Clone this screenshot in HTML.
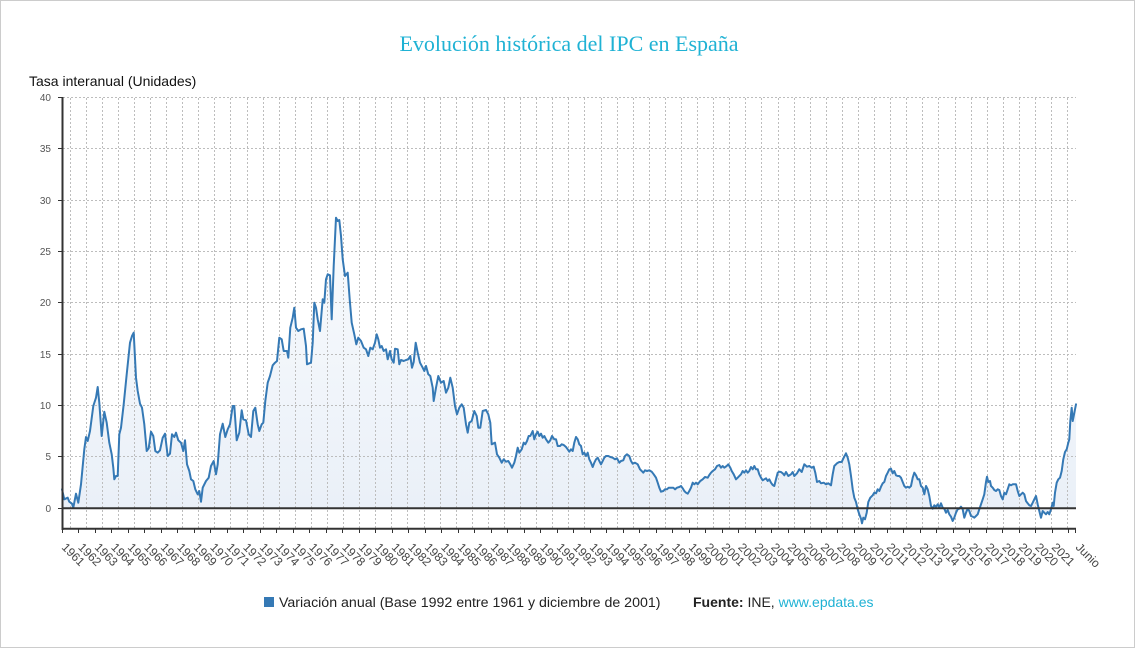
<!DOCTYPE html>
<html><head><meta charset="utf-8"><style>
html,body{margin:0;padding:0;background:#fff;}
.wrap{position:relative;width:1135px;height:648px;box-sizing:border-box;border:1px solid #cccccc;overflow:hidden;background:#fff;}
svg{position:absolute;left:0;top:0;}
</style></head><body><div class="wrap">
<svg width="1135" height="648" viewBox="0 0 1135 648" xmlns="http://www.w3.org/2000/svg">
<defs>
<linearGradient id="fg2" x1="0" y1="216" x2="0" y2="507" gradientUnits="userSpaceOnUse">
<stop offset="0" stop-color="#f9fbfd"/><stop offset="1" stop-color="#eaf0f8"/>
</linearGradient>
</defs>
<text x="568" y="50" text-anchor="middle" font-family="Liberation Serif, serif" font-size="22" fill="#1fb2d4">Evolución histórica del IPC en España</text>
<text x="28" y="85" font-family="Liberation Sans, sans-serif" font-size="14" fill="#111">Tasa interanual (Unidades)</text>

<!-- fill -->
<polygon fill="url(#fg2)" points="61,507.3 61,488.3 63.3,498.3 66.7,496.7 68.3,500.7 71,502.7 72.3,506.7 75,492.7 77.3,501.7 80,483.3 83.3,448.3 85,436 86.7,440 89,430 92.3,405 95,396.7 96.7,386 98.3,401.7 100.7,435 103.3,410.7 105.7,421.7 108.3,441.7 110.7,453.3 112.3,466.7 113.3,478.3 115,475 116.7,475 118.3,433.3 120,426.7 122.7,403.3 125.7,373.3 129,341.7 131,335 132.7,331.7 135,376.7 136.7,390 139,402.7 141,406.7 143.3,423.3 145.7,450 147.7,447.3 150,430.7 152.3,435 154.3,450 156.7,451.7 159,449.3 161.7,436.7 164,432.7 166.7,455 169,452.7 171,433.3 173.3,436 175,431.7 177.3,439.3 180,441.7 182.3,450 184,439.3 186,463.3 188.3,470 190,478.3 192.3,480 194.3,488.3 196.7,493.3 198.3,490 200,500.7 201.7,486.7 205,480 207.7,476.7 210,465 212.7,460 215,473.3 216.7,463.3 219,433.3 221.7,422.7 224.3,436 226.7,428.3 229,423.3 231.7,405 233.3,405 235.7,439.3 238.3,431.7 240.7,409.3 242.3,418.3 245,419.3 247.7,433.3 250,436 252.3,410 254.3,406.7 256.7,423.3 258.3,430 260.7,423.3 262.3,421.7 264.3,400 266.7,381.7 269,375 271.7,364.3 274,361.7 276,360 278.3,336.7 280.7,338.3 282.7,350 286,350 287.3,356.7 289.3,326.7 291.7,316.7 293.3,306.7 295,326.7 297.3,330 300,328.3 302.7,327.7 305,345 306,363.3 308.3,362.3 310,361.7 311.7,341.7 313.3,301.7 315,306.7 316.7,318.3 319,330 321.7,298.3 323.3,301.7 325,278.3 326.7,273.3 329,274.3 330.7,318.3 332.7,265 335,216.7 336.7,220 338.3,219 340,235 341.7,258.3 344,275 346.7,271.7 348.7,298.3 350.7,321.7 353.3,333.3 355.3,343.3 357.3,336.7 360,340 362.7,346.7 365,348.3 367.3,355 369.3,346.7 371.7,348.3 374,341.7 375.7,333.3 377.3,338.3 379,346.7 380.7,345 382.7,350 385,348.3 386.7,358.3 389,350 390.7,358.3 392.7,361.7 394,347.7 396.7,348.3 398.3,363.3 400,359 402.7,360 405,359 407.3,358.3 409.3,355 411,366.7 412.7,361 414.7,341.7 416.7,351.7 419,361.7 421.7,366.7 423.3,370 425,365 427.3,373.3 429.3,375 431.7,386.7 432.7,400 435,386.7 437.3,375 440,381.7 442.7,380 445,391.7 447.3,386.7 449.3,376.7 451.7,386.7 454,405 456,413.3 458.3,406.7 460.7,403.3 462.7,406.7 465,423.3 466.7,431.7 468.3,421.7 470.7,420 473.3,410 475.7,415 477.3,426.7 479.3,426.7 481.7,410 485,409 487.3,413.3 489.3,421.7 490.7,443.3 494,441.7 496,453.3 498.3,456.7 500.7,461.7 502.7,458.3 505,460.7 507.3,460 509.3,463.3 511,466.7 513.3,461.7 515,455 516.7,446.7 518.3,451.7 520.7,448.3 522.7,441.7 524.3,443.3 526,440 527.7,435 529.3,435 531.7,430 533.3,438.3 535,433.3 536.7,430.7 538.3,435 540,432.7 541.7,436.7 543.3,435 545,438.3 547.3,441.7 549.3,439.3 551,435 553.3,438.3 555,438.3 556.7,445 559,445 560.7,443.3 562.7,444 565,446 566.7,448.3 568.3,450.7 570,448.3 571.7,450 573.3,441.7 575,436 576.7,438.3 578.3,443.3 580,445 581.7,453.3 583.3,451.7 585,455 586.7,451.7 588.3,458.3 590,461.7 591.7,466 593.3,461.7 595,458.3 596.7,456.7 598.3,460 600,463.3 601.7,460 603.3,456.7 605,455 607.3,455 609.3,456 611.7,456.7 614,458.3 616,457.3 618.3,461.7 620,460 622.3,459.3 624,455 626,453.3 628.3,455 630,460 631.7,462.7 634,461.7 636.7,463.3 639,468.3 640.7,470 642.3,471.7 644,469.3 646,470 648.3,469.3 650.7,470.7 652.7,473.3 655,476.7 656.7,481.7 658.3,486.7 660,490.7 662.3,490 664,488.3 666,488.3 667.7,486.7 670,486.7 672.3,486.7 674,488.3 676,486.7 678.3,486 680,485 681.7,487.3 683.3,490 685,491.7 686.7,492.7 688.3,490 690,486.7 691.7,481.7 693.3,483.3 695,481.7 696.7,483.3 699.3,480 701.7,478.3 704,476 706.7,476.7 708.3,474 710,471.7 711.7,470 714,468.3 716,465 718.3,464 720,466.7 721.7,465 723.3,466.7 725.7,465 727.3,463.3 729.3,466.7 730.7,470 732.7,473.3 735,478.3 736.7,476.7 738.3,475 740,473.3 741.7,470 743.3,471.7 745,469.3 746.7,471.7 748.3,470 750,466 751.7,468.3 753.3,465 755,468.3 756.7,468.3 758.3,473.3 760,476.7 761.7,479.3 763.3,478.3 765,477.3 766.7,480 768.3,478.3 770,481.7 771.7,484 773.3,485 775,478.3 776.7,471.7 778.3,470.7 780,471 781.7,472.3 783.3,474.3 785,471 787.3,475 790,473.3 791.7,471 793.3,475 796,472.3 798.3,468.3 800.7,471 803.3,463.3 806,465.7 808.3,465 810.7,466.7 812.7,465.7 814.3,471.7 816,481 818.3,480 820,482.3 822.7,481.7 825,483.3 827.3,482.3 830,484.3 831.7,473.3 833.3,465 836,462.3 838.3,461 840.7,461 842.7,456.7 845,452.3 846.7,456.7 848.3,463.3 850,475 851.7,488.3 853.3,496.7 855,501 856.7,508.3 858.3,513.3 860,517.7 861,522.3 862.3,516.7 864,518.3 865.7,511.7 867.3,501 869.3,496.7 871.7,494.3 873.3,491.7 875,492.3 876.7,488.3 878.3,490 880,485.7 881.7,482.3 883.3,481 885,475 886.7,471.7 888.3,468.3 890,467.7 891.7,472.3 893.3,470 895,474.3 896.7,475 898.3,475 900,476.7 901.7,481 903.3,485 905,486.7 906.7,485.7 908.3,486.7 910,485 911.7,476.7 913.3,471.7 915,474.3 916.7,478.3 918.3,478.3 920,485 921.7,486.7 923.3,493.3 925,485 926.7,488.3 928.3,495 930,505 931.7,507.7 933.3,504.3 935,505.7 936.7,503.3 938.3,506.7 940,502.3 941.7,506.7 943.3,507.7 945,511.7 946.7,509 948.3,513.3 950,515.7 951.7,520 953.3,516.7 955,511.7 956.7,508.3 958.3,507.7 960,505.7 961.7,508.3 963.3,516.7 965,511.7 966.7,507.7 968.3,510 970,515 971.7,515.7 973.3,516.7 975,515 976.7,513.3 978.3,508.3 980,503.3 981.7,498.3 983.3,493.3 985,481 986,475.7 987.3,481 989,480 990,485 991.7,486.7 993.3,489 995,490 996.7,488.3 998.3,489 1000,495 1001.7,498.3 1003.3,491.7 1005,493.3 1006.7,488.3 1008.3,483.3 1010,484.3 1011.7,483.3 1013.3,483.3 1015,483.3 1016.7,490 1018.3,495 1020,493.3 1021.7,491.7 1023.3,493.3 1025,500 1026.7,502.3 1028.3,504.3 1030,505 1031.7,501.7 1033.3,498.3 1035,495 1036.7,503.3 1038.3,510 1040,516.7 1041.7,510 1043.3,511.7 1045,513.3 1046.7,511 1048.3,513.3 1050,508.3 1051.7,501.7 1052.7,505 1054,491.7 1055.7,481.7 1057.3,478.3 1059,476.7 1060.7,470 1062.3,458.3 1064,451 1065.7,448.3 1067.3,441.7 1068.3,438.3 1069.3,420 1070.7,406.7 1071.7,420 1072.7,415 1074,408.3 1075,403.3 1075,507.3"/>

<!-- gridlines -->
<g stroke="#bdbdbd" stroke-width="1" stroke-dasharray="2,2" fill="none">
<path d="M62 455.5H1075M62 404.5H1075M62 353.5H1075M62 301.5H1075M62 250.5H1075M62 199.5H1075M62 147.5H1075M62 96.5H1075"/>
<path d="M69.5 97V527M85.5 97V527M101.5 97V527M117.5 97V527M133.5 97V527M149.5 97V527M165.5 97V527M181.5 97V527M197.5 97V527M213.5 97V527M229.5 97V527M246.5 97V527M262.5 97V527M278.5 97V527M294.5 97V527M310.5 97V527M326.5 97V527M342.5 97V527M358.5 97V527M374.5 97V527M390.5 97V527M406.5 97V527M423.5 97V527M439.5 97V527M455.5 97V527M471.5 97V527M487.5 97V527M503.5 97V527M519.5 97V527M535.5 97V527M551.5 97V527M567.5 97V527M583.5 97V527M600.5 97V527M616.5 97V527M632.5 97V527M648.5 97V527M664.5 97V527M680.5 97V527M696.5 97V527M712.5 97V527M728.5 97V527M744.5 97V527M760.5 97V527M777.5 97V527M793.5 97V527M809.5 97V527M825.5 97V527M841.5 97V527M857.5 97V527M873.5 97V527M889.5 97V527M905.5 97V527M921.5 97V527M937.5 97V527M954.5 97V527M970.5 97V527M986.5 97V527M1002.5 97V527M1018.5 97V527M1034.5 97V527M1050.5 97V527M1066.5 97V527"/>
</g>

<!-- series line -->
<polyline fill="none" stroke="#3579b5" stroke-width="2" stroke-linejoin="round" stroke-linecap="round" points="61,488.3 63.3,498.3 66.7,496.7 68.3,500.7 71,502.7 72.3,506.7 75,492.7 77.3,501.7 80,483.3 83.3,448.3 85,436 86.7,440 89,430 92.3,405 95,396.7 96.7,386 98.3,401.7 100.7,435 103.3,410.7 105.7,421.7 108.3,441.7 110.7,453.3 112.3,466.7 113.3,478.3 115,475 116.7,475 118.3,433.3 120,426.7 122.7,403.3 125.7,373.3 129,341.7 131,335 132.7,331.7 135,376.7 136.7,390 139,402.7 141,406.7 143.3,423.3 145.7,450 147.7,447.3 150,430.7 152.3,435 154.3,450 156.7,451.7 159,449.3 161.7,436.7 164,432.7 166.7,455 169,452.7 171,433.3 173.3,436 175,431.7 177.3,439.3 180,441.7 182.3,450 184,439.3 186,463.3 188.3,470 190,478.3 192.3,480 194.3,488.3 196.7,493.3 198.3,490 200,500.7 201.7,486.7 205,480 207.7,476.7 210,465 212.7,460 215,473.3 216.7,463.3 219,433.3 221.7,422.7 224.3,436 226.7,428.3 229,423.3 231.7,405 233.3,405 235.7,439.3 238.3,431.7 240.7,409.3 242.3,418.3 245,419.3 247.7,433.3 250,436 252.3,410 254.3,406.7 256.7,423.3 258.3,430 260.7,423.3 262.3,421.7 264.3,400 266.7,381.7 269,375 271.7,364.3 274,361.7 276,360 278.3,336.7 280.7,338.3 282.7,350 286,350 287.3,356.7 289.3,326.7 291.7,316.7 293.3,306.7 295,326.7 297.3,330 300,328.3 302.7,327.7 305,345 306,363.3 308.3,362.3 310,361.7 311.7,341.7 313.3,301.7 315,306.7 316.7,318.3 319,330 321.7,298.3 323.3,301.7 325,278.3 326.7,273.3 329,274.3 330.7,318.3 332.7,265 335,216.7 336.7,220 338.3,219 340,235 341.7,258.3 344,275 346.7,271.7 348.7,298.3 350.7,321.7 353.3,333.3 355.3,343.3 357.3,336.7 360,340 362.7,346.7 365,348.3 367.3,355 369.3,346.7 371.7,348.3 374,341.7 375.7,333.3 377.3,338.3 379,346.7 380.7,345 382.7,350 385,348.3 386.7,358.3 389,350 390.7,358.3 392.7,361.7 394,347.7 396.7,348.3 398.3,363.3 400,359 402.7,360 405,359 407.3,358.3 409.3,355 411,366.7 412.7,361 414.7,341.7 416.7,351.7 419,361.7 421.7,366.7 423.3,370 425,365 427.3,373.3 429.3,375 431.7,386.7 432.7,400 435,386.7 437.3,375 440,381.7 442.7,380 445,391.7 447.3,386.7 449.3,376.7 451.7,386.7 454,405 456,413.3 458.3,406.7 460.7,403.3 462.7,406.7 465,423.3 466.7,431.7 468.3,421.7 470.7,420 473.3,410 475.7,415 477.3,426.7 479.3,426.7 481.7,410 485,409 487.3,413.3 489.3,421.7 490.7,443.3 494,441.7 496,453.3 498.3,456.7 500.7,461.7 502.7,458.3 505,460.7 507.3,460 509.3,463.3 511,466.7 513.3,461.7 515,455 516.7,446.7 518.3,451.7 520.7,448.3 522.7,441.7 524.3,443.3 526,440 527.7,435 529.3,435 531.7,430 533.3,438.3 535,433.3 536.7,430.7 538.3,435 540,432.7 541.7,436.7 543.3,435 545,438.3 547.3,441.7 549.3,439.3 551,435 553.3,438.3 555,438.3 556.7,445 559,445 560.7,443.3 562.7,444 565,446 566.7,448.3 568.3,450.7 570,448.3 571.7,450 573.3,441.7 575,436 576.7,438.3 578.3,443.3 580,445 581.7,453.3 583.3,451.7 585,455 586.7,451.7 588.3,458.3 590,461.7 591.7,466 593.3,461.7 595,458.3 596.7,456.7 598.3,460 600,463.3 601.7,460 603.3,456.7 605,455 607.3,455 609.3,456 611.7,456.7 614,458.3 616,457.3 618.3,461.7 620,460 622.3,459.3 624,455 626,453.3 628.3,455 630,460 631.7,462.7 634,461.7 636.7,463.3 639,468.3 640.7,470 642.3,471.7 644,469.3 646,470 648.3,469.3 650.7,470.7 652.7,473.3 655,476.7 656.7,481.7 658.3,486.7 660,490.7 662.3,490 664,488.3 666,488.3 667.7,486.7 670,486.7 672.3,486.7 674,488.3 676,486.7 678.3,486 680,485 681.7,487.3 683.3,490 685,491.7 686.7,492.7 688.3,490 690,486.7 691.7,481.7 693.3,483.3 695,481.7 696.7,483.3 699.3,480 701.7,478.3 704,476 706.7,476.7 708.3,474 710,471.7 711.7,470 714,468.3 716,465 718.3,464 720,466.7 721.7,465 723.3,466.7 725.7,465 727.3,463.3 729.3,466.7 730.7,470 732.7,473.3 735,478.3 736.7,476.7 738.3,475 740,473.3 741.7,470 743.3,471.7 745,469.3 746.7,471.7 748.3,470 750,466 751.7,468.3 753.3,465 755,468.3 756.7,468.3 758.3,473.3 760,476.7 761.7,479.3 763.3,478.3 765,477.3 766.7,480 768.3,478.3 770,481.7 771.7,484 773.3,485 775,478.3 776.7,471.7 778.3,470.7 780,471 781.7,472.3 783.3,474.3 785,471 787.3,475 790,473.3 791.7,471 793.3,475 796,472.3 798.3,468.3 800.7,471 803.3,463.3 806,465.7 808.3,465 810.7,466.7 812.7,465.7 814.3,471.7 816,481 818.3,480 820,482.3 822.7,481.7 825,483.3 827.3,482.3 830,484.3 831.7,473.3 833.3,465 836,462.3 838.3,461 840.7,461 842.7,456.7 845,452.3 846.7,456.7 848.3,463.3 850,475 851.7,488.3 853.3,496.7 855,501 856.7,508.3 858.3,513.3 860,517.7 861,522.3 862.3,516.7 864,518.3 865.7,511.7 867.3,501 869.3,496.7 871.7,494.3 873.3,491.7 875,492.3 876.7,488.3 878.3,490 880,485.7 881.7,482.3 883.3,481 885,475 886.7,471.7 888.3,468.3 890,467.7 891.7,472.3 893.3,470 895,474.3 896.7,475 898.3,475 900,476.7 901.7,481 903.3,485 905,486.7 906.7,485.7 908.3,486.7 910,485 911.7,476.7 913.3,471.7 915,474.3 916.7,478.3 918.3,478.3 920,485 921.7,486.7 923.3,493.3 925,485 926.7,488.3 928.3,495 930,505 931.7,507.7 933.3,504.3 935,505.7 936.7,503.3 938.3,506.7 940,502.3 941.7,506.7 943.3,507.7 945,511.7 946.7,509 948.3,513.3 950,515.7 951.7,520 953.3,516.7 955,511.7 956.7,508.3 958.3,507.7 960,505.7 961.7,508.3 963.3,516.7 965,511.7 966.7,507.7 968.3,510 970,515 971.7,515.7 973.3,516.7 975,515 976.7,513.3 978.3,508.3 980,503.3 981.7,498.3 983.3,493.3 985,481 986,475.7 987.3,481 989,480 990,485 991.7,486.7 993.3,489 995,490 996.7,488.3 998.3,489 1000,495 1001.7,498.3 1003.3,491.7 1005,493.3 1006.7,488.3 1008.3,483.3 1010,484.3 1011.7,483.3 1013.3,483.3 1015,483.3 1016.7,490 1018.3,495 1020,493.3 1021.7,491.7 1023.3,493.3 1025,500 1026.7,502.3 1028.3,504.3 1030,505 1031.7,501.7 1033.3,498.3 1035,495 1036.7,503.3 1038.3,510 1040,516.7 1041.7,510 1043.3,511.7 1045,513.3 1046.7,511 1048.3,513.3 1050,508.3 1051.7,501.7 1052.7,505 1054,491.7 1055.7,481.7 1057.3,478.3 1059,476.7 1060.7,470 1062.3,458.3 1064,451 1065.7,448.3 1067.3,441.7 1068.3,438.3 1069.3,420 1070.7,406.7 1071.7,420 1072.7,415 1074,408.3 1075,403.3"/>

<!-- axes -->
<g stroke="#333" fill="none">
<path d="M61.5 96V529" stroke-width="2"/>
<path d="M61 507.3H1075" stroke-width="2"/>
<path d="M61 527.8H1075" stroke-width="2"/>
<path stroke-width="1" d="M57 96.5H62M57 147.5H62M57 199.5H62M57 250.5H62M57 301.5H62M57 353.5H62M57 404.5H62M57 455.5H62M57 507.5H62"/>
<path stroke-width="1" d="M61.5 528V532M77.5 528V532M94.5 528V532M110.5 528V532M127.5 528V532M143.5 528V532M160.5 528V532M176.5 528V532M193.5 528V532M209.5 528V532M226.5 528V532M242.5 528V532M259.5 528V532M275.5 528V532M292.5 528V532M308.5 528V532M325.5 528V532M341.5 528V532M358.5 528V532M374.5 528V532M391.5 528V532M407.5 528V532M424.5 528V532M440.5 528V532M457.5 528V532M473.5 528V532M490.5 528V532M506.5 528V532M523.5 528V532M539.5 528V532M556.5 528V532M572.5 528V532M589.5 528V532M605.5 528V532M622.5 528V532M638.5 528V532M655.5 528V532M671.5 528V532M688.5 528V532M704.5 528V532M721.5 528V532M737.5 528V532M754.5 528V532M770.5 528V532M787.5 528V532M803.5 528V532M820.5 528V532M836.5 528V532M853.5 528V532M869.5 528V532M886.5 528V532M902.5 528V532M919.5 528V532M935.5 528V532M952.5 528V532M968.5 528V532M985.5 528V532M1001.5 528V532M1018.5 528V532M1034.5 528V532M1051.5 528V532M1067.5 528V532M1074.5 528V532"/>
</g>

<!-- y labels -->
<g font-family="Liberation Sans, sans-serif" font-size="10" fill="#555" text-anchor="end">
<text x="50" y="100">40</text>
<text x="50" y="151">35</text>
<text x="50" y="203">30</text>
<text x="50" y="254">25</text>
<text x="50" y="305">20</text>
<text x="50" y="357">15</text>
<text x="50" y="408">10</text>
<text x="50" y="459">5</text>
<text x="50" y="511">0</text>
</g>

<!-- x labels -->
<g font-family="Liberation Sans, sans-serif" font-size="12" fill="#444">
<text transform="translate(60,547) rotate(45)">1961</text>
<text transform="translate(76.5,547) rotate(45)">1962</text>
<text transform="translate(93,547) rotate(45)">1963</text>
<text transform="translate(109.5,547) rotate(45)">1964</text>
<text transform="translate(126,547) rotate(45)">1965</text>
<text transform="translate(142.5,547) rotate(45)">1966</text>
<text transform="translate(159,547) rotate(45)">1967</text>
<text transform="translate(175.5,547) rotate(45)">1968</text>
<text transform="translate(192,547) rotate(45)">1969</text>
<text transform="translate(208.5,547) rotate(45)">1970</text>
<text transform="translate(225,547) rotate(45)">1971</text>
<text transform="translate(241.5,547) rotate(45)">1972</text>
<text transform="translate(258,547) rotate(45)">1973</text>
<text transform="translate(274.5,547) rotate(45)">1974</text>
<text transform="translate(291,547) rotate(45)">1975</text>
<text transform="translate(307.5,547) rotate(45)">1976</text>
<text transform="translate(324,547) rotate(45)">1977</text>
<text transform="translate(340.5,547) rotate(45)">1978</text>
<text transform="translate(357,547) rotate(45)">1979</text>
<text transform="translate(373.5,547) rotate(45)">1980</text>
<text transform="translate(390,547) rotate(45)">1981</text>
<text transform="translate(406.5,547) rotate(45)">1982</text>
<text transform="translate(423,547) rotate(45)">1983</text>
<text transform="translate(439.5,547) rotate(45)">1984</text>
<text transform="translate(456,547) rotate(45)">1985</text>
<text transform="translate(472.5,547) rotate(45)">1986</text>
<text transform="translate(489,547) rotate(45)">1987</text>
<text transform="translate(505.5,547) rotate(45)">1988</text>
<text transform="translate(522,547) rotate(45)">1989</text>
<text transform="translate(538.5,547) rotate(45)">1990</text>
<text transform="translate(555,547) rotate(45)">1991</text>
<text transform="translate(571.5,547) rotate(45)">1992</text>
<text transform="translate(588,547) rotate(45)">1993</text>
<text transform="translate(604.5,547) rotate(45)">1994</text>
<text transform="translate(621,547) rotate(45)">1995</text>
<text transform="translate(637.5,547) rotate(45)">1996</text>
<text transform="translate(654,547) rotate(45)">1997</text>
<text transform="translate(670.5,547) rotate(45)">1998</text>
<text transform="translate(687,547) rotate(45)">1999</text>
<text transform="translate(703.5,547) rotate(45)">2000</text>
<text transform="translate(720,547) rotate(45)">2001</text>
<text transform="translate(736.5,547) rotate(45)">2002</text>
<text transform="translate(753,547) rotate(45)">2003</text>
<text transform="translate(769.5,547) rotate(45)">2004</text>
<text transform="translate(786,547) rotate(45)">2005</text>
<text transform="translate(802.5,547) rotate(45)">2006</text>
<text transform="translate(819,547) rotate(45)">2007</text>
<text transform="translate(835.5,547) rotate(45)">2008</text>
<text transform="translate(852,547) rotate(45)">2009</text>
<text transform="translate(868.5,547) rotate(45)">2010</text>
<text transform="translate(885,547) rotate(45)">2011</text>
<text transform="translate(901.5,547) rotate(45)">2012</text>
<text transform="translate(918,547) rotate(45)">2013</text>
<text transform="translate(934.5,547) rotate(45)">2014</text>
<text transform="translate(951,547) rotate(45)">2015</text>
<text transform="translate(967.5,547) rotate(45)">2016</text>
<text transform="translate(984,547) rotate(45)">2017</text>
<text transform="translate(1000.5,547) rotate(45)">2018</text>
<text transform="translate(1017,547) rotate(45)">2019</text>
<text transform="translate(1033.5,547) rotate(45)">2020</text>
<text transform="translate(1050,547) rotate(45)">2021</text>
<text transform="translate(1074,547) rotate(45)">Junio</text>
</g>

<!-- legend -->
<rect x="263" y="596" width="10" height="10" fill="#3579b5"/>
<text x="278" y="606" font-family="Liberation Sans, sans-serif" font-size="14.2" fill="#222">Variación anual (Base 1992 entre 1961 y diciembre de 2001)</text>
<text x="692" y="606" font-family="Liberation Sans, sans-serif" font-size="14" fill="#222"><tspan font-weight="bold">Fuente:</tspan> INE, <tspan fill="#1fb2d4">www.epdata.es</tspan></text>
</svg>
</div></body></html>
